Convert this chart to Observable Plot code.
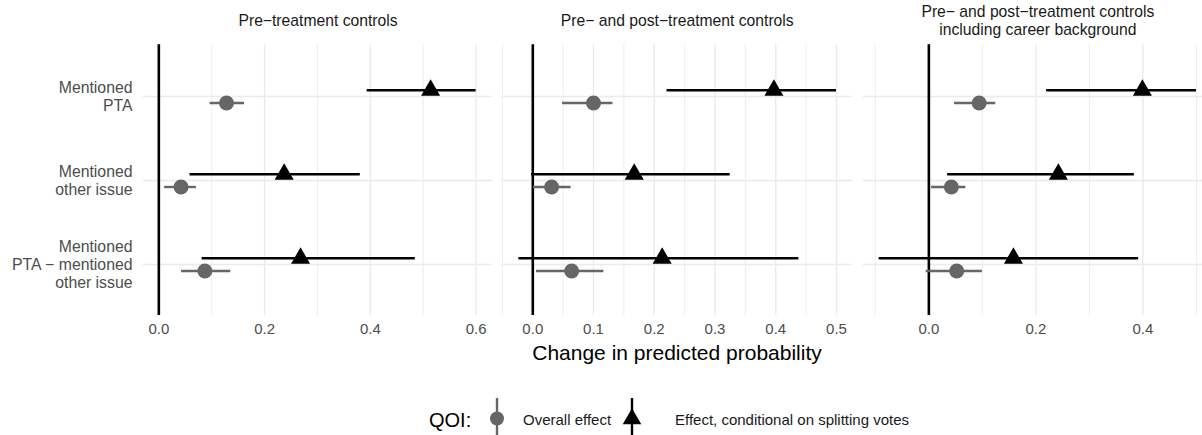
<!DOCTYPE html>
<html>
<head>
<meta charset="utf-8">
<script src="https://cdn.jsdelivr.net/npm/d3@7"></script>
<script src="https://cdn.jsdelivr.net/npm/@observablehq/plot@0.6"></script>
<style>
  html, body { margin: 0; padding: 0; background: #fff; overflow: hidden; }
  #wrap { position: relative; width: 1202px; height: 435px; overflow: hidden; font-family: "Liberation Sans", Arial, sans-serif; }
  .panel { position: absolute; top: 0; }
  .abs { position: absolute; white-space: nowrap; line-height: 1; }
</style>
</head>
<body>
<div id="wrap"></div>
<script>
// ---- data ----
const categories = ["Mentioned\nPTA", "Mentioned\nother issue", "Mentioned\nPTA − mentioned\nother issue"];
const panelTitles = ["Pre−treatment controls", "Pre− and post−treatment controls", "Pre− and post−treatment controls\nincluding career background"];
const qoiLabels = ["Overall effect", "Effect, conditional on splitting votes"];
// per panel, per category
const overallEst = [[0.128, 0.042, 0.087], [0.100, 0.031, 0.064], [0.094, 0.042, 0.052]];
const overallLo  = [[0.097, 0.011, 0.043], [0.049, 0.001, 0.006], [0.048, 0.005, -0.005]];
const overallHi  = [[0.162, 0.071, 0.136], [0.132, 0.063, 0.117], [0.125, 0.069, 0.100]];
const condEst    = [[0.514, 0.237, 0.268], [0.397, 0.167, 0.213], [0.399, 0.242, 0.158]];
const condLo     = [[0.394, 0.059, 0.082], [0.221, -0.002, -0.023], [0.220, 0.035, -0.093]];
const condHi     = [[0.600, 0.381, 0.485], [0.500, 0.325, 0.438], [0.500, 0.384, 0.392]];
const xTicks = [[0, 0.2, 0.4, 0.6], [0, 0.1, 0.2, 0.3, 0.4, 0.5], [0, 0.2, 0.4]];
const xMinor = [[0.1, 0.3, 0.5], [-0.05, 0.05, 0.15, 0.25, 0.35, 0.45], [-0.1, 0.1, 0.3, 0.5]];
const xDomains = [[-0.029, 0.631], [-0.0507, 0.5264], [-0.1227, 0.53]];

// ---- layout ----
const layout = [
  {left: 0,   width: 497, marginLeft: 143, marginRight: 5},
  {left: 497, width: 360, marginLeft: 4.5, marginRight: 5},
  {left: 857, width: 355, marginLeft: 5.7, marginRight: 0}
];
const H = 345, MT = 44.3, MB = 30;
const GREY = "#666666", GRID = "#ebebeb";
const wrap = document.getElementById("wrap");

panelTitles.forEach((title, p) => {
  const overall = categories.map((c, i) => ({cat: c, qoi: qoiLabels[0], est: overallEst[p][i], lo: overallLo[p][i], hi: overallHi[p][i]}));
  const cond = categories.map((c, i) => ({cat: c, qoi: qoiLabels[1], est: condEst[p][i], lo: condLo[p][i], hi: condHi[p][i]}));
  const L = layout[p];
  const marks = [
    Plot.gridX({ticks: xMinor[p], stroke: GRID, strokeOpacity: 1, strokeWidth: 0.9}),
    Plot.gridX({ticks: xTicks[p], stroke: GRID, strokeOpacity: 1, strokeWidth: 1.4}),
    Plot.gridY({stroke: GRID, strokeOpacity: 1, strokeWidth: 1.6}),
    Plot.ruleX([0], {stroke: "black", strokeWidth: 2.6}),
    Plot.ruleY(overall, {y: "cat", x1: "lo", x2: "hi", dy: 6.5, stroke: GREY, strokeWidth: 2.4}),
    Plot.dot(overall, {x: "est", y: "cat", dy: 6.5, r: 7.5, fill: GREY, stroke: null, symbol: "circle"}),
    Plot.ruleY(cond, {y: "cat", x1: "lo", x2: "hi", dy: -6.2, stroke: "black", strokeWidth: 2.4}),
    Plot.dot(cond, {x: "est", y: "cat", dy: -6.2, r: 7.07, fill: "black", stroke: null, symbol: "triangle"}),
    Plot.axisX({ticks: xTicks[p], tickSize: 0, tickPadding: 8, tickFormat: d3.format(".1f"), fontSize: 15, fill: "#4d4d4d", label: null}),
    Plot.text([title], {frameAnchor: "top", dy: -24.6, lineAnchor: "middle", lineHeight: 1.14, fontSize: 15.7, fill: "#1a1a1a"})
  ];
  if (p === 0) {
    marks.push(Plot.axisY({tickSize: 0, tickPadding: 11, fontSize: 15.8, fill: "#4d4d4d", lineHeight: 1.12, label: null, textAnchor: "end"}));
  }
  const chart = Plot.plot({
    width: L.width,
    height: H,
    marginLeft: L.marginLeft,
    marginRight: L.marginRight,
    marginTop: MT,
    marginBottom: MB,
    x: {domain: xDomains[p], axis: null},
    y: {type: "point", domain: categories, padding: 0.6, axis: null},
    style: {fontFamily: "'Liberation Sans', Arial, sans-serif", background: "transparent", overflow: "visible"},
    marks
  });
  chart.classList.add("panel");
  chart.style.left = L.left + "px";
  wrap.appendChild(chart);
});

// axis title
const xt = document.createElement("div");
xt.className = "abs";
xt.textContent = "Change in predicted probability";
xt.style.cssText += "font-size:21px;color:#000;left:677px;top:342px;transform:translateX(-50%);";
wrap.appendChild(xt);

// legend
const legendTitle = "QOI:";
const lg = document.createElement("div");
lg.innerHTML = `
  <div class="abs" style="left:429px;top:410px;font-size:20px;color:#000;">${legendTitle}</div>
  <svg class="abs" style="left:482px;top:398px;" width="30" height="37">
    <line x1="15" x2="15" y1="0" y2="37" stroke="${GREY}" stroke-width="2.4"/>
    <circle cx="15" cy="20.5" r="7" fill="${GREY}"/>
  </svg>
  <div class="abs" style="left:523px;top:412px;font-size:15px;color:#1a1a1a;">${qoiLabels[0]}</div>
  <svg class="abs" style="left:617px;top:398px;" width="30" height="37">
    <line x1="15" x2="15" y1="0" y2="37" stroke="black" stroke-width="2.4"/>
    <path d="${d3.symbol(d3.symbolTriangle, 150)()}" transform="translate(15,21)" fill="black"/>
  </svg>
  <div class="abs" style="left:675px;top:412px;font-size:15px;color:#1a1a1a;">${qoiLabels[1]}</div>
`;
wrap.appendChild(lg);
</script>
</body>
</html>
